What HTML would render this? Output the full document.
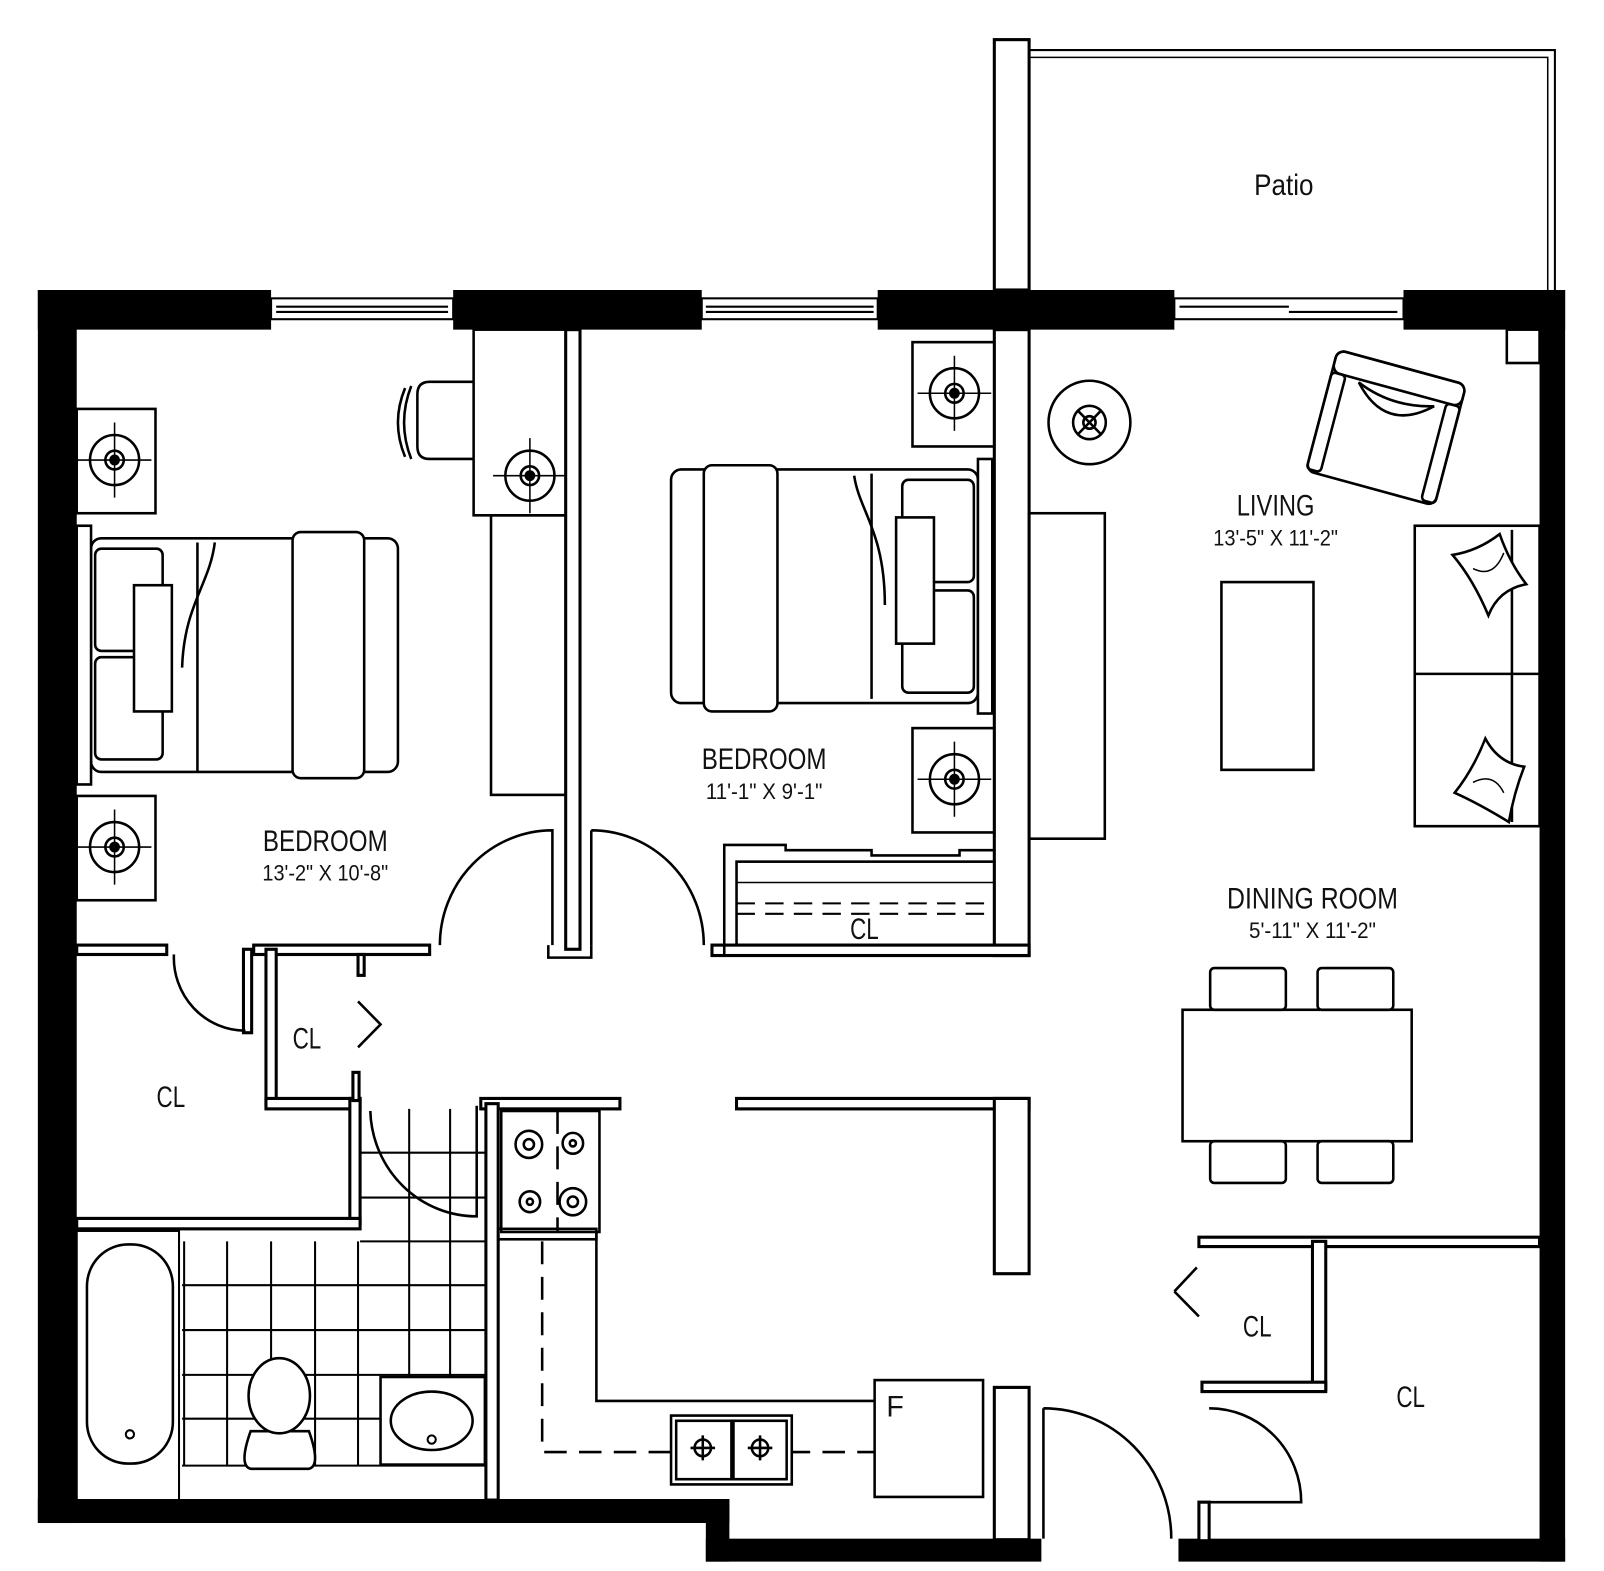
<!DOCTYPE html>
<html><head><meta charset="utf-8"><style>
html,body{margin:0;padding:0;background:#fff}
svg{display:block}
text{font-family:"Liberation Sans Narrow","Liberation Sans",sans-serif;fill:#111}
</style></head><body>
<svg width="1604" height="1571" viewBox="0 0 1568 1506" preserveAspectRatio="none" xmlns="http://www.w3.org/2000/svg">
<g fill="none" stroke="#000" stroke-width="3">
<rect x="972" y="38" width="34" height="240" fill="#fff"/>
<polyline points="1006,48 1520,48 1520,278" stroke-width="2"/>
<polyline points="1006,55 1513,55 1513,278" stroke-width="1.5"/>
</g>
<g fill="#000">
<rect x="37" y="278" width="228" height="38"/>
<rect x="443" y="278" width="243" height="38"/>
<rect x="858" y="278" width="290" height="38"/>
<rect x="1372" y="278" width="158" height="38"/>
<rect x="37" y="278" width="38" height="1182"/>
<rect x="1505" y="278" width="25" height="1219"/>
<rect x="37" y="1437" width="676" height="23"/>
<rect x="690" y="1437" width="23" height="60"/>
<rect x="690" y="1475" width="328" height="22"/>
<rect x="1152" y="1475" width="378" height="22"/>
</g>
<g fill="none" stroke="#000" stroke-width="2">
<rect x="265" y="286" width="178" height="20"/><line x1="270" y1="294" x2="438" y2="294"/><line x1="270" y1="299" x2="438" y2="299"/>
<rect x="686" y="286" width="172" height="20"/><line x1="690" y1="294" x2="854" y2="294"/><line x1="690" y1="299" x2="854" y2="299"/>
<rect x="1148" y="286" width="224" height="20"/><line x1="1153" y1="294" x2="1260" y2="294"/><line x1="1260" y1="299" x2="1366" y2="299"/>
</g>
<g stroke="#000" stroke-width="2" fill="none">
<path d="M180 1190 V1405 M222 1190 V1405 M265 1190 V1405 M308 1190 V1405 M350 1190 V1405"/>
<path d="M178 1232 H474 M178 1275 H474 M178 1318 H474 M178 1360 H372 M178 1405 H474"/>
<path d="M400 1063 V1320 M440 1063 V1320 M352 1105 H474 M352 1148 H474 M352 1190 H474"/>
</g>
<g fill="#fff" stroke="#000" stroke-width="3">
<rect x="553" y="316" width="14" height="594"/>
<rect x="972" y="316" width="34" height="600"/>
<rect x="696" y="906" width="310" height="10"/>
<rect x="75" y="906" width="88" height="9"/>
<rect x="248" y="906" width="172" height="9"/>
<rect x="238" y="910" width="8" height="80"/>
<rect x="260" y="910" width="10" height="150"/>
<rect x="260" y="1053" width="92" height="10"/>
<rect x="342" y="1053" width="10" height="120"/>
<rect x="75" y="1168" width="277" height="10"/>
<rect x="470" y="1053" width="136" height="10"/>
<rect x="475" y="1058" width="12" height="380"/>
<rect x="720" y="1053" width="286" height="10"/>
<rect x="972" y="1053" width="34" height="168"/>
<rect x="972" y="1330" width="34" height="146"/>
<rect x="1172" y="1186" width="333" height="9"/>
<rect x="1283" y="1190" width="13" height="142"/>
<rect x="1175" y="1325" width="121" height="9"/>
<rect x="1172" y="1440" width="10" height="37"/>
<rect x="350" y="915" width="6" height="20"/>
<rect x="345" y="1028" width="6" height="27"/>
</g>
<g fill="none" stroke="#000" stroke-width="2.5">
<path d="M430 906 A110 110 0 0 1 540 796 L540 906"/>
<path d="M578 796 A110 110 0 0 1 688 906 M578 796 L578 906"/>
<path d="M170 915 A70 70 0 0 0 240 988"/>
<path d="M350 960 L372 982 L350 1004" />
<path d="M362 1065 A104 104 0 0 0 466 1166 L466 1060"/>
<path d="M1148 1238 L1170 1215 M1148 1238 L1172 1262"/>
<path d="M1182 1350 A90 90 0 0 1 1272 1440 L1182 1440"/>
<path d="M1020 1350 A125 125 0 0 1 1145 1475 M1020 1350 L1020 1475"/>
<path d="M536 906 v12 h42 v-12"/>
<polyline points="708,916 708,810 768,810 768,815 852,815 852,820 938,820 938,815 972,815"/>
<rect x="720" y="826" width="252" height="80"/>
<line x1="720" y1="846" x2="972" y2="846" stroke-width="1.5"/>
<line x1="720" y1="866" x2="972" y2="866" stroke-dasharray="18 10" stroke-width="2"/>
<line x1="720" y1="876" x2="972" y2="876" stroke-dasharray="18 10" stroke-width="2"/>
<rect x="75" y="392" width="77" height="100"/><rect x="75" y="763" width="77" height="100"/>
<rect x="892" y="328" width="80" height="100"/><rect x="892" y="698" width="80" height="100"/>
<rect x="463" y="316" width="90" height="178"/>
<rect x="480" y="494" width="73" height="268"/>
<rect x="1006" y="492" width="74" height="312"/>
<rect x="89" y="516" width="300" height="224" rx="10" fill="#fff"/>
<rect x="75" y="504" width="14" height="248" fill="#fff"/>
<rect x="93" y="526" width="66" height="98" rx="6"/><rect x="93" y="630" width="66" height="98" rx="6"/>
<rect x="131" y="561" width="37" height="121" fill="#fff"/>
<rect x="286" y="510" width="70" height="236" rx="8" fill="#fff"/>
<line x1="193" y1="520" x2="193" y2="740"/>
<path d="M210 520 C205 560 180 580 178 640"/>
<rect x="656" y="450" width="300" height="224" rx="10" fill="#fff"/>
<rect x="956" y="440" width="14" height="244" fill="#fff"/>
<rect x="882" y="460" width="70" height="98" rx="6"/><rect x="882" y="566" width="70" height="98" rx="6"/>
<rect x="876" y="496" width="37" height="121" fill="#fff"/>
<rect x="688" y="446" width="72" height="236" rx="8" fill="#fff"/>
<line x1="852" y1="454" x2="852" y2="670"/>
<path d="M835 456 C840 490 865 510 865 580"/>
<path d="M463 366 H420 Q408 366 408 378 V428 Q408 440 420 440 H463"/>
<path d="M402 370 Q388 405 402 440"/><path d="M396 372 Q382 405 396 438"/>
<circle cx="1065" cy="405" r="40"/>
<rect x="1194" y="558" width="90" height="180"/>
<rect x="1473" y="316" width="32" height="32"/>
<rect x="1383" y="504" width="122" height="288"/>
<line x1="1383" y1="646" x2="1505" y2="646"/>
<line x1="1478" y1="508" x2="1478" y2="788"/>
<path d="M1420 532 Q1445 528 1466 512 Q1476 540 1492 560 Q1465 565 1455 590 Q1440 555 1420 532Z" fill="#fff"/>
<path d="M1422 760 Q1440 738 1452 708 Q1465 732 1490 735 Q1480 760 1475 788 Q1445 770 1422 760Z" fill="#fff"/>
<path d="M1440 545 Q1460 555 1470 530 M1440 750 Q1460 740 1470 760" stroke-width="1.5"/>
<g transform="rotate(15 1355 410)"><rect x="1290" y="350" width="130" height="120" rx="8"/><rect x="1290" y="350" width="130" height="22" rx="8"/><rect x="1290" y="372" width="14" height="96" rx="4"/><rect x="1406" y="372" width="14" height="96" rx="4"/><path d="M1318 375 Q1355 415 1395 378 Q1355 390 1318 375Z"/></g>
<rect x="1156" y="968" width="224" height="126"/>
<rect x="1183" y="928" width="74" height="40" rx="4"/><rect x="1288" y="928" width="74" height="40" rx="4"/>
<rect x="1183" y="1094" width="74" height="40" rx="4"/><rect x="1288" y="1094" width="74" height="40" rx="4"/>
<rect x="490" y="1065" width="96" height="116"/>
<rect x="487" y="1178" width="96" height="10"/>
<polyline points="583,1181 583,1343 855,1343"/>
<polyline points="530,1190 530,1392 972,1392" stroke-dasharray="22 12"/>
<line x1="545" y1="1065" x2="545" y2="1181" stroke-dasharray="22 12"/>
<circle cx="517" cy="1097" r="13"/><circle cx="517" cy="1097" r="5"/>
<circle cx="560" cy="1096" r="10"/><circle cx="560" cy="1096" r="3"/>
<circle cx="518" cy="1152" r="10"/><circle cx="518" cy="1152" r="3"/>
<circle cx="560" cy="1152" r="13"/><circle cx="560" cy="1152" r="5"/>
<rect x="656" y="1357" width="118" height="66" fill="#fff"/><rect x="661" y="1362" width="54" height="56"/><rect x="717" y="1362" width="52" height="56"/>
<rect x="855" y="1323" width="106" height="112" fill="#fff"/>
<rect x="75" y="1180" width="100" height="258" fill="#fff" stroke-width="2"/>
<rect x="85" y="1193" width="84" height="210" rx="40" fill="#fff"/>
<rect x="372" y="1320" width="102" height="84" fill="#fff"/>
<ellipse cx="422" cy="1362" rx="40" ry="28"/>
<path d="M245 1372 Q233 1405 245 1408 H302 Q314 1405 302 1372 Z" fill="#fff"/>
<ellipse cx="273" cy="1338" rx="30" ry="36" fill="#fff"/>
</g>
<g fill="none" stroke="#000" stroke-width="2">
<circle cx="127" cy="1375" r="4"/><circle cx="422" cy="1380" r="4"/>
</g>
<g fill="none" stroke="#000" stroke-width="2.5">
<g><circle cx="112" cy="441" r="24"/><circle cx="112" cy="441" r="9"/><circle cx="112" cy="441" r="4" fill="#000"/><path d="M112 405V477M76 441H148" stroke-width="1.5"/></g>
<g><circle cx="112" cy="812" r="24"/><circle cx="112" cy="812" r="9"/><circle cx="112" cy="812" r="4" fill="#000"/><path d="M112 776V848M76 812H148" stroke-width="1.5"/></g>
<g><circle cx="933" cy="377" r="24"/><circle cx="933" cy="377" r="9"/><circle cx="933" cy="377" r="4" fill="#000"/><path d="M933 341V413M897 377H969" stroke-width="1.5"/></g>
<g><circle cx="933" cy="747" r="24"/><circle cx="933" cy="747" r="9"/><circle cx="933" cy="747" r="4" fill="#000"/><path d="M933 711V783M897 747H969" stroke-width="1.5"/></g>
<g><circle cx="518" cy="456" r="24"/><circle cx="518" cy="456" r="9"/><circle cx="518" cy="456" r="4" fill="#000"/><path d="M518 420V492M482 456H554" stroke-width="1.5"/></g>
<g><circle cx="1065" cy="405" r="16"/><circle cx="1065" cy="405" r="6"/><path d="M1053 393L1077 417M1077 393L1053 417"/></g>
<g><circle cx="687" cy="1388" r="8"/><path d="M687 1376V1400M675 1388H699"/></g>
<g><circle cx="743" cy="1388" r="8"/><path d="M743 1376V1400M731 1388H755"/></g>
</g>
<g text-anchor="middle" lengthAdjust="spacingAndGlyphs">
<text x="1255" y="187" font-size="28" textLength="58" lengthAdjust="spacingAndGlyphs">Patio</text>
<text x="1247" y="494" font-size="28" textLength="76" lengthAdjust="spacingAndGlyphs">LIVING</text>
<text x="1247" y="523" font-size="21" textLength="122" lengthAdjust="spacingAndGlyphs">13'-5" X 11'-2"</text>
<text x="747" y="737" font-size="28" textLength="122" lengthAdjust="spacingAndGlyphs">BEDROOM</text>
<text x="747" y="766" font-size="21" textLength="114" lengthAdjust="spacingAndGlyphs">11'-1" X 9'-1"</text>
<text x="318" y="816" font-size="28" textLength="122" lengthAdjust="spacingAndGlyphs">BEDROOM</text>
<text x="318" y="844" font-size="21" textLength="123" lengthAdjust="spacingAndGlyphs">13'-2" X 10'-8"</text>
<text x="1283" y="871" font-size="28" textLength="167" lengthAdjust="spacingAndGlyphs">DINING ROOM</text>
<text x="1283" y="899" font-size="21" textLength="124" lengthAdjust="spacingAndGlyphs">5'-11" X 11'-2"</text>
<text x="845" y="900" font-size="28" textLength="28" lengthAdjust="spacingAndGlyphs">CL</text>
<text x="300" y="1005" font-size="28" textLength="28" lengthAdjust="spacingAndGlyphs">CL</text>
<text x="167" y="1061" font-size="28" textLength="28" lengthAdjust="spacingAndGlyphs">CL</text>
<text x="1229" y="1281" font-size="28" textLength="28" lengthAdjust="spacingAndGlyphs">CL</text>
<text x="1379" y="1349" font-size="28" textLength="28" lengthAdjust="spacingAndGlyphs">CL</text>
<text x="875" y="1358" font-size="28">F</text>
</g>
</svg>
</body></html>
